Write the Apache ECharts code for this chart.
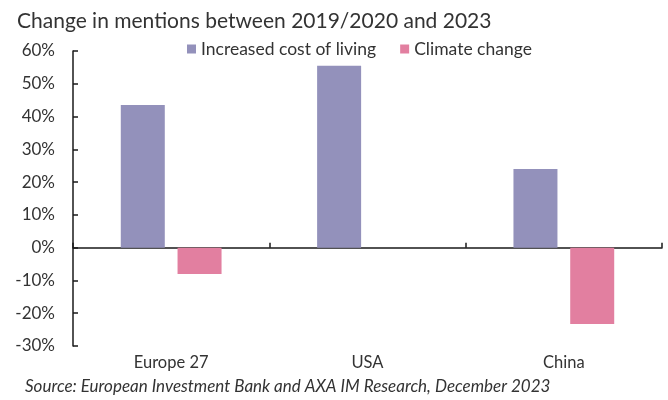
<!DOCTYPE html>
<html>
<head>
<meta charset="utf-8">
<script src="https://cdn.jsdelivr.net/npm/echarts@6/dist/echarts.min.js"></script>
<style>
  html, body { margin: 0; padding: 0; background: #fff; }
  #chart { width: 668px; height: 400px; }
</style>
</head>
<body>
<div id="chart"></div>
<script>
// Change in mentions between 2019/2020 and 2023 (percent)
const categories = ['Europe 27', 'USA', 'China'];
const costOfLiving = [43.5, 55.5, 24];
const climateChange = [-8, 0, -23.3];
const seriesNames = ['Increased cost of living', 'Climate change'];
const yTicks = { min: -30, max: 60, step: 10 };

const FONT = 'Lato, "Noto Sans", sans-serif';
const INK = '#333333';
const LINE = '#1a1a1a';

const chart = echarts.init(document.getElementById('chart'), null, { renderer: 'canvas' });

chart.setOption({
  animation: false,
  backgroundColor: '#ffffff',
  textStyle: { fontFamily: FONT, color: INK },
  title: [
    {
      text: 'Change in mentions between 2019/2020 and 2023',
      left: 12, top: 6,
      textStyle: { fontFamily: FONT, fontSize: 21, fontWeight: 'normal', color: INK }
    },
    {
      text: 'Source: European Investment Bank and AXA IM Research, December 2023',
      left: 20, top: 373,
      textStyle: { fontFamily: FONT, fontSize: 17, fontStyle: 'italic', fontWeight: 'normal', color: INK }
    }
  ],
  legend: {
    left: 187, top: 40, padding: 0,
    icon: 'rect', itemWidth: 9, itemHeight: 9, itemGap: 24, itemStyle: { borderWidth: 0 },
    textStyle: { fontFamily: FONT, fontSize: 17.5, color: INK },
    data: seriesNames
  },
  grid: { left: 73, right: 6, top: 51, bottom: 54, containLabel: false },
  xAxis: [
    {
      type: 'category',
      data: categories,
      axisLine: { onZero: true, lineStyle: { color: LINE, width: 1.5 } },
      axisTick: { show: true, inside: true, length: 5, lineStyle: { color: LINE, width: 1.5 } },
      axisLabel: { show: false },
      splitLine: { show: false }
    },
    {
      type: 'category',
      data: categories,
      position: 'bottom',
      axisLine: { show: false, onZero: false },
      axisTick: { show: false },
      axisLabel: { show: true, margin: 8, fontFamily: FONT, fontSize: 16.5, color: INK },
      splitLine: { show: false }
    }
  ],
  yAxis: {
    type: 'value',
    min: yTicks.min, max: yTicks.max, interval: yTicks.step,
    axisLine: { show: true, lineStyle: { color: LINE, width: 1.5 } },
    axisTick: { show: true, inside: true, length: 5, lineStyle: { color: LINE, width: 1.5 } },
    axisLabel: { formatter: '{value}%', margin: 18, fontFamily: FONT, fontSize: 17, color: INK },
    splitLine: { show: false }
  },
  series: [
    {
      name: seriesNames[0], type: 'bar', xAxisIndex: 0,
      data: costOfLiving, barWidth: 44, barGap: '29%',
      itemStyle: { color: '#9391bb' }
    },
    {
      name: seriesNames[1], type: 'bar', xAxisIndex: 0,
      data: climateChange, barWidth: 44, barGap: '29%',
      itemStyle: { color: '#e27fa0' }
    }
  ]
});
</script>
</body>
</html>
